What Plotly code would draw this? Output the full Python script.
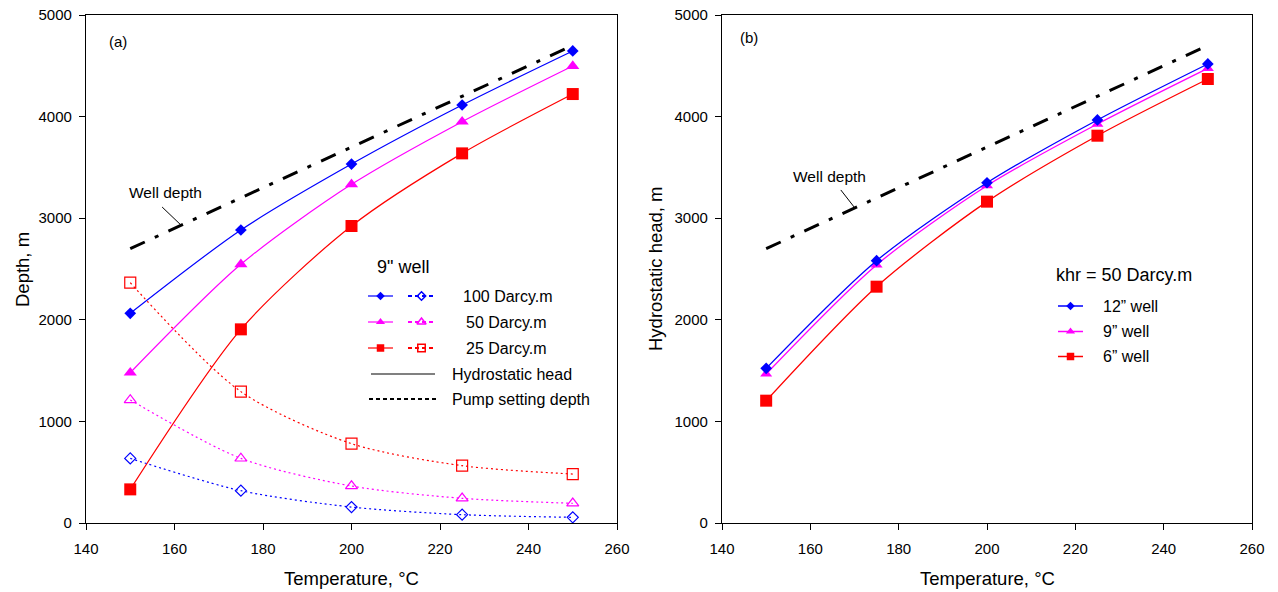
import plotly.graph_objects as go

# ---- data -------------------------------------------------------------
temperature = [150, 175, 200, 225, 250]

# (a) 9" well: hydrostatic head (solid) and pump setting depth (dotted)
head_100 = [2064, 2884, 3533, 4114, 4646]
head_50 = [1479, 2546, 3333, 3950, 4498]
head_25 = [331, 1906, 2923, 3638, 4222]
pump_100 = [636, 318, 157, 82, 56]
pump_50 = [1211, 636, 364, 243, 194]
pump_25 = [2365, 1293, 781, 564, 482]

# well depth reference line
well_temp = [150, 250]
well_depth = [2700, 4700]

# (b) khr = 50 Darcy.m, hydrostatic head by well size
head_12in = [1522, 2582, 3349, 3967, 4518]
head_9in = [1467, 2540, 3320, 3927, 4475]
head_6in = [1204, 2326, 3163, 3812, 4370]

x_ticks = [140, 160, 180, 200, 220, 240, 260]
y_ticks = [0, 1000, 2000, 3000, 4000, 5000]

# ---- styling ------------------------------------------------------------
W, H = 1278, 592
FONT = "Liberation Sans, Arial, sans-serif"
BLUE, MAGENTA, RED = "#0000FF", "#FF00FF", "#FF0000"
WELL_DASH = "16px,11px,4px,11px"
PUMP_DASH = "2px,3px"


def px_x(x):
    return x / W


def px_y(y):
    return 1 - y / H


fig = go.Figure()

# panel (a) curves
for ys, col, sym, size in [
    (head_100, BLUE, "diamond", 9),
    (head_50, MAGENTA, "triangle-up", 11.5),
    (head_25, RED, "square", 12),
]:
    fig.add_trace(go.Scatter(
        x=temperature, y=ys, mode="lines+markers", xaxis="x", yaxis="y",
        line=dict(color=col, width=1.2, shape="spline", smoothing=0.8),
        marker=dict(symbol=sym, size=size, color=col, line=dict(width=0)),
        showlegend=False, hoverinfo="skip"))

for ys, col, sym, size in [
    (pump_100, BLUE, "diamond-open", 8.5),
    (pump_50, MAGENTA, "triangle-up-open", 10.5),
    (pump_25, RED, "square-open", 11),
]:
    fig.add_trace(go.Scatter(
        x=temperature, y=ys, mode="lines+markers", xaxis="x", yaxis="y",
        line=dict(color=col, width=1.2, dash=PUMP_DASH, shape="spline", smoothing=0.8),
        marker=dict(symbol=sym, size=size, color=col, line=dict(width=1.2, color=col)),
        showlegend=False, hoverinfo="skip"))

fig.add_trace(go.Scatter(
    x=well_temp, y=well_depth, mode="lines", xaxis="x", yaxis="y",
    line=dict(color="black", width=3, dash=WELL_DASH),
    showlegend=False, hoverinfo="skip"))

# panel (b) curves
for ys, col, sym, size in [
    (head_6in, RED, "square", 12),
    (head_9in, MAGENTA, "triangle-up", 10.5),
    (head_12in, BLUE, "diamond", 9),
]:
    fig.add_trace(go.Scatter(
        x=temperature, y=ys, mode="lines+markers", xaxis="x2", yaxis="y2",
        line=dict(color=col, width=1.3, shape="spline", smoothing=0.8),
        marker=dict(symbol=sym, size=size, color=col, line=dict(width=0)),
        showlegend=False, hoverinfo="skip"))

fig.add_trace(go.Scatter(
    x=well_temp, y=well_depth, mode="lines", xaxis="x2", yaxis="y2",
    line=dict(color="black", width=3, dash=WELL_DASH),
    showlegend=False, hoverinfo="skip"))

# ---- hand-made legends, drawn on a pixel-space overlay -----------------
def legend_sample(x0, x1, y, col, dash, width, sym, msize, mline=0):
    fig.add_trace(go.Scatter(
        x=[x0, x1], y=[y, y], mode="lines", xaxis="x3", yaxis="y3",
        line=dict(color=col, width=width, dash=dash),
        showlegend=False, hoverinfo="skip"))
    if sym:
        fig.add_trace(go.Scatter(
            x=[(x0 + x1) / 2], y=[y], mode="markers", xaxis="x3", yaxis="y3",
            marker=dict(symbol=sym, size=msize, color=col,
                        line=dict(width=mline, color=col)),
            showlegend=False, hoverinfo="skip"))


annotations = []


def text(x, y, s, size=16, anchor="left", angle=0):
    annotations.append(dict(
        x=px_x(x), y=px_y(y), xref="paper", yref="paper", text=s,
        showarrow=False, xanchor=anchor, yanchor="middle", textangle=angle,
        font=dict(family=FONT, size=size, color="black")))


# legend (a)
text(403, 267, "9\" well", 18, "center")
rows_a = [(296, BLUE, "diamond", "diamond-open", 6.5, "100 Darcy.m", 461),
          (322, MAGENTA, "triangle-up", "triangle-up-open", 8, "50 Darcy.m", 464),
          (348, RED, "square", "square-open", 7.5, "25 Darcy.m", 464)]
for y, col, s_fill, s_open, ms, label, tx in rows_a:
    legend_sample(368, 393, y, col, "solid", 1.2, s_fill, ms)
    legend_sample(408, 435, y, col, "4px,3px", 2, s_open, ms, 1.5)
    text(tx, y, label)
legend_sample(371, 435, 374, "#808080", "solid", 1.8, None, 0)
text(450, 374, "Hydrostatic head")
legend_sample(369, 436, 399, "black", "4px,3px", 2, None, 0)
text(450, 399, "Pump setting depth")

# legend (b)
text(1054, 275, "khr = 50 Darcy.m", 18)
rows_b = [(306, BLUE, "diamond", 6.5, "12\u201d well"),
          (331.5, MAGENTA, "triangle-up", 8, "9\u201d well"),
          (356.5, RED, "square", 7.5, "6\u201d well")]
for y, col, sym, ms, label in rows_b:
    legend_sample(1058, 1083, y, col, "solid", 1.5, sym, ms)
    text(1101, y, label)

# panel labels, axis titles, well depth callouts
text(118, 41, "(a)", 15, "center")
text(749, 38, "(b)", 15, "center")
text(166, 193, "Well depth", 15.5, "center")
text(829, 176, "Well depth", 15.5, "center")
text(22, 270, "Depth, m", 18.5, "center", -90)
text(655, 269, "Hydrostatic head, m", 18.5, "center", -90)
text(351, 578, "Temperature, \u00b0C", 18.5, "center")
text(987, 578, "Temperature, \u00b0C", 18.5, "center")

shapes = [
    dict(type="line", xref="x", yref="y", x0=157.2, y0=3110, x1=161.4, y1=2935,
         line=dict(color="black", width=1)),
    dict(type="line", xref="x2", yref="y2", x0=166.9, y0=3278, x1=170.0, y1=3105,
         line=dict(color="black", width=1)),
]

axis_common = dict(
    showline=True, linecolor="black", linewidth=1.3, mirror=True,
    ticks="outside", ticklen=6, tickwidth=1.2, tickcolor="black",
    showgrid=False, zeroline=False, automargin=False,
    tickfont=dict(family=FONT, size=15, color="black"),
    fixedrange=True,
)

dom_y = [px_y(523), px_y(15)]
fig.update_layout(
    width=W, height=H, autosize=False,
    margin=dict(l=0, r=0, t=0, b=0, pad=0),
    paper_bgcolor="white", plot_bgcolor="rgba(0,0,0,0)",
    showlegend=False,
    xaxis=dict(domain=[px_x(86), px_x(617)], range=[140, 260], tickvals=x_ticks,
               anchor="y", ticklabelstandoff=6, **axis_common),
    yaxis=dict(domain=dom_y, range=[0, 5000], tickvals=y_ticks,
               anchor="x", ticklabelstandoff=4, **axis_common),
    xaxis2=dict(domain=[px_x(722), px_x(1252)], range=[140, 260], tickvals=x_ticks,
                anchor="y2", ticklabelstandoff=6, **axis_common),
    yaxis2=dict(domain=dom_y, range=[0, 5000], tickvals=y_ticks,
                anchor="x2", ticklabelstandoff=4, **axis_common),
    xaxis3=dict(domain=[0, 1], range=[0, W], visible=False, anchor="y3",
                fixedrange=True, automargin=False),
    yaxis3=dict(domain=[0, 1], range=[H, 0], visible=False, anchor="x3",
                fixedrange=True, automargin=False),
    annotations=annotations,
    shapes=shapes,
)

fig.write_html("out.html", config={"displayModeBar": False})
